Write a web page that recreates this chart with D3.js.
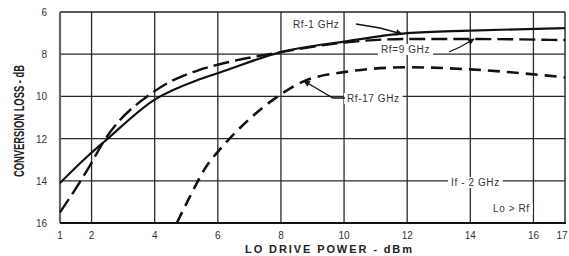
<!DOCTYPE html>
<html>
<head>
<meta charset="utf-8">
<script src="https://cdn.jsdelivr.net/npm/d3@7"></script>
<style>
  html, body { margin: 0; padding: 0; background: #fff; }
  svg text { font-family: "Liberation Sans", Arial, sans-serif; fill: #333; }
</style>
</head>
<body>
<div id="chart"></div>
<script>
// values
const xTicks = [1, 2, 4, 6, 8, 10, 12, 14, 16, 17];
const yTicks = [6, 8, 10, 12, 14, 16];
const xGrid = [2, 4, 6, 8, 10, 12, 14, 16];
const yGrid = [8, 10, 12, 14];

const powerRf1 = [1, 1.9, 2.4, 4, 5.4, 6, 8, 10, 12, 14, 17];
const lossRf1 = [14.1, 12.8, 12.15, 10.15, 9.2, 8.9, 7.9, 7.4, 7.0, 6.88, 6.76];

const powerRf9 = [1, 1.9, 2.4, 4, 5.4, 6, 8, 10, 12, 14, 17];
const lossRf9 = [15.5, 13.4, 12.1, 9.75, 8.75, 8.5, 7.9, 7.45, 7.28, 7.28, 7.33];

const powerRf17 = [4.7, 5.1, 5.6, 6.1, 6.7, 8, 8.7, 10, 12, 14, 17];
const lossRf17 = [16, 14.8, 13.4, 12.45, 11.5, 9.9, 9.3, 8.85, 8.62, 8.72, 9.1];

document.addEventListener('DOMContentLoaded', function () {
  const w = 569, h = 256;
  const left = 60, right = 565, top = 12, bottom = 223;

  let svg = d3.select('#chart')
    .append('svg')
    .attr('width', w)
    .attr('height', h);

  // arrow heads for the callouts
  svg.append('defs').append('marker')
    .attr('id', 'arrow')
    .attr('viewBox', '0 0 10 10')
    .attr('refX', 9).attr('refY', 5)
    .attr('markerWidth', 7).attr('markerHeight', 5)
    .attr('orient', 'auto')
    .append('path')
    .attr('d', 'M0,0 L10,5 L0,10 Z')
    .attr('fill', '#111');

  const xScale = d3.scaleLinear().domain([1, 17]).range([left, right]);
  const yScale = d3.scaleLinear().domain([6, 16]).range([top, bottom]);

  // grid
  svg.append('g').selectAll('line')
    .data(xGrid).enter().append('line')
    .attr('x1', d => xScale(d)).attr('x2', d => xScale(d))
    .attr('y1', top).attr('y2', bottom)
    .attr('stroke', '#2a2a2a').attr('stroke-width', 1.3);

  svg.append('g').selectAll('line')
    .data(yGrid).enter().append('line')
    .attr('x1', left).attr('x2', right)
    .attr('y1', d => yScale(d)).attr('y2', d => yScale(d))
    .attr('stroke', '#2a2a2a').attr('stroke-width', 1.3);

  // frame
  svg.append('line').attr('x1', left).attr('x2', right).attr('y1', top).attr('y2', top)
    .attr('stroke', '#222').attr('stroke-width', 1.5);
  svg.append('line').attr('x1', right).attr('x2', right).attr('y1', top).attr('y2', bottom)
    .attr('stroke', '#333').attr('stroke-width', 1.5);
  svg.append('line').attr('x1', left).attr('x2', left).attr('y1', top).attr('y2', bottom)
    .attr('stroke', '#666').attr('stroke-width', 2.2);
  svg.append('line').attr('x1', left).attr('x2', right + 1).attr('y1', bottom).attr('y2', bottom)
    .attr('stroke', '#111').attr('stroke-width', 2.2);

  // tick labels
  svg.append('g').selectAll('text')
    .data(yTicks).enter().append('text')
    .attr('x', 47).attr('y', d => yScale(d) + 4)
    .attr('text-anchor', 'end')
    .style('font-size', '10px')
    .text(d => d);

  svg.append('g').selectAll('text')
    .data(xTicks).enter().append('text')
    .attr('x', d => xScale(d) - (d === 17 ? 3 : 0))
    .attr('y', 239)
    .attr('text-anchor', 'middle')
    .style('font-size', '10px')
    .text(d => d);

  // axis titles
  svg.append('text')
    .attr('x', 245).attr('y', 253)
    .attr('textLength', 167).attr('lengthAdjust', 'spacing')
    .style('font-size', '11px').style('font-weight', 'bold')
    .style('fill', '#222')
    .text('LO DRIVE POWER - dBm');

  svg.append('text')
    .attr('transform', 'translate(24,177) rotate(-90)')
    .attr('textLength', 112).attr('lengthAdjust', 'spacingAndGlyphs')
    .style('font-size', '14px').style('font-weight', 'bold')
    .style('fill', '#222')
    .text('CONVERSION LOSS - dB');

  // curves
  const line = d3.line()
    .x(d => xScale(d[0]))
    .y(d => yScale(d[1]))
    .curve(d3.curveMonotoneX);

  const series = [
    { p: powerRf1, l: lossRf1, dash: null, sw: 2.2 },
    { p: powerRf9, l: lossRf9, dash: '16,6', sw: 2.4 },
    { p: powerRf17, l: lossRf17, dash: '12,7', sw: 2.6 }
  ];

  svg.append('g').selectAll('path')
    .data(series).enter().append('path')
    .attr('d', s => line(d3.zip(s.p, s.l)))
    .attr('fill', 'none')
    .attr('stroke', '#111')
    .attr('stroke-width', s => s.sw)
    .attr('stroke-dasharray', s => s.dash);

  // labels with white backing so the grid breaks round them
  function label(x, y, txt, anchor) {
    let t = svg.append('text')
      .attr('x', x).attr('y', y)
      .attr('text-anchor', anchor || 'start')
      .style('font-size', '10px')
      .style('letter-spacing', '0.6px')
      .text(txt);
    let b = t.node().getBBox();
    svg.insert('rect', function () { return t.node(); })
      .attr('x', b.x - 3).attr('y', b.y).attr('width', b.width + 6).attr('height', b.height)
      .attr('fill', '#fff');
    return t;
  }

  label(293, 28, 'Rf-1 GHz');
  label(381, 53, 'Rf=9 GHz');
  label(347, 102, 'Rf-17 GHz');
  label(451, 186, 'If - 2 GHz');
  label(493, 212, 'Lo > Rf');

  const callout = d3.line().x(d => d[0]).y(d => d[1]);
  const callouts = [
    [[356, 24], [380, 28], [402, 34]],
    [[449, 52], [460, 47], [474, 39]],
    [[345, 98], [333, 98], [304, 81]]
  ];
  svg.append('g').selectAll('path')
    .data(callouts).enter().append('path')
    .attr('d', d => callout(d))
    .attr('fill', 'none')
    .attr('stroke', '#111')
    .attr('stroke-width', 1.3)
    .attr('marker-end', 'url(#arrow)');
});
</script>
</body>
</html>
